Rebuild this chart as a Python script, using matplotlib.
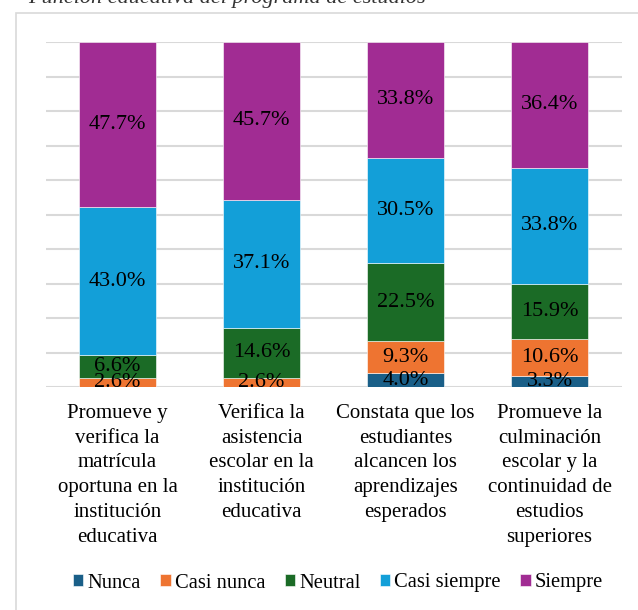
import matplotlib
matplotlib.use("Agg")
import matplotlib.pyplot as plt
from matplotlib.patches import Rectangle

plt.rcParams["font.family"] = ["Liberation Serif", "DejaVu Serif"]

categories = [
    "Promueve y\nverifica la\nmatrícula\noportuna en la\ninstitución\neducativa",
    "Verifica la\nasistencia\nescolar en la\ninstitución\neducativa",
    "Constata que los\nestudiantes\nalcancen los\naprendizajes\nesperados",
    "Promueve la\nculminación\nescolar y la\ncontinuidad de\nestudios\nsuperiores",
]
series = ["Nunca", "Casi nunca", "Neutral", "Casi siempre", "Siempre"]
nunca = [0.0, 0.0, 4.0, 3.3]
casi_nunca = [2.6, 2.6, 9.3, 10.6]
neutral = [6.6, 14.6, 22.5, 15.9]
casi_siempre = [43.0, 37.1, 30.5, 33.8]
siempre = [47.7, 45.7, 33.8, 36.4]
colors = ["#1a5f88", "#ee7431", "#1b6b26", "#139fd8", "#a12c93"]

values = [nunca, casi_nunca, neutral, casi_siempre, siempre]

fig = plt.figure(figsize=(6.38, 6.10), dpi=100)

# chart frame (light border, runs off right/bottom)
fig.patches.append(Rectangle((16 / 638, -0.05), 1.2, 1 - 13 / 610 + 0.05,
                             transform=fig.transFigure, fill=False,
                             edgecolor="#d9d9d9", linewidth=1.2))

# clipped caption at the very top
fig.text(28 / 638, 1 - 3 / 610, "Función educativa del programa de estudios",
         fontsize=16, style="italic", va="baseline", ha="left", color="#333333")

ax = fig.add_axes([45.6 / 638, 1 - 387 / 610, 576 / 638, 345 / 610])
x = list(range(len(categories)))
bottom = [0.0] * len(categories)
for name, vals, col in zip(series, values, colors):
    ax.bar(x, vals, width=0.53, bottom=bottom, color=col, label=name,
           edgecolor="white", linewidth=0.4, zorder=3)
    for i, v in enumerate(vals):
        if v > 0:
            ax.text(x[i], bottom[i] + v / 2, f"{v:.1f}%", ha="center",
                    va="center", fontsize=16, zorder=4)
    bottom = [b + v for b, v in zip(bottom, vals)]

ax.set_xlim(-0.5, 3.5)
ax.set_ylim(0, 100)
ax.set_yticks(range(0, 101, 10))
ax.yaxis.grid(True, color="#d9d9d9", linewidth=1.5, zorder=0)
ax.set_yticklabels([])
ax.tick_params(axis="y", length=0)
ax.set_xticks(x)
ax.set_xticklabels(categories, fontsize=15, linespacing=1.42)
ax.tick_params(axis="x", length=0, pad=12)
for s in ax.spines.values():
    s.set_visible(False)

fig.legend(loc="center", bbox_to_anchor=(338 / 638, 1 - 583 / 610), ncol=5,
           frameon=False, fontsize=14.8, handlelength=0.5, handleheight=0.5,
           handletextpad=0.2, columnspacing=0.95, borderaxespad=0)

fig.savefig("out.png", dpi=100)
